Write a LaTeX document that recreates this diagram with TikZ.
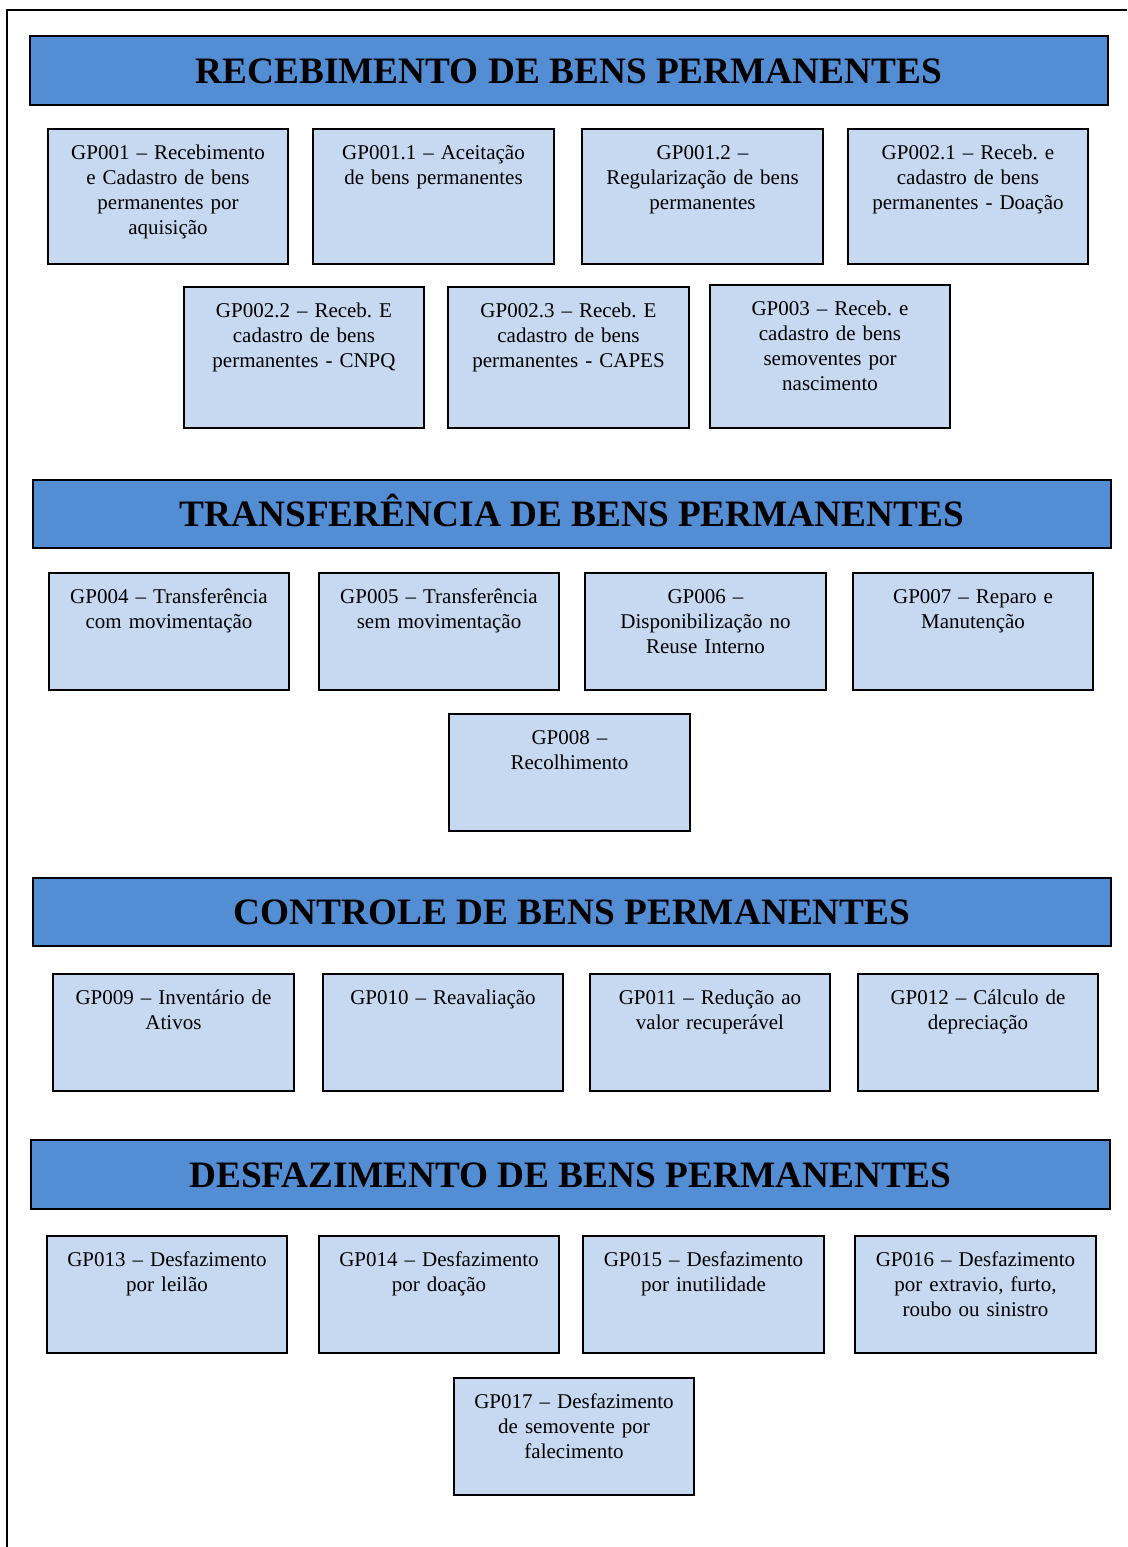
\documentclass[tikz,border=0pt]{standalone}
\usepackage{fontspec}
\setmainfont{Liberation Serif}
\frenchspacing
\definecolor{hdrblue}{HTML}{538ED5}
\definecolor{boxblue}{HTML}{C6D9F1}
\tikzset{
  hdr/.style={draw=black, line width=2pt, fill=hdrblue, inner sep=0pt,
    font=\fontsize{37.3}{40}\selectfont\bfseries, text height=25pt, text depth=0pt},
  gp/.style={draw=black, line width=2pt, fill=boxblue, inner sep=0pt},
  gptext/.style={anchor=base, inner sep=0pt, text width=250pt, align=center,
    font=\fontsize{21}{25}\selectfont},
}
% section heading: name, x1, y1, x2, y2, text
\newcommand\hdrbox[6]{%
  \node[hdr, minimum width={#4-#2}, minimum height={#5-#3}] (#1)
    at ({(#2+#4)/2},{(#3+#5)/2}) {#6};}
% process box: name, x1, y1, x2, y2, text (text hangs from the top edge)
\newcommand\gpbox[6]{%
  \node[gp, minimum width={#4-#2}, minimum height={#5-#3}] (#1)
    at ({(#2+#4)/2},{(#3+#5)/2}) {};
  \node[gptext] (#1t) at ([yshift=-31pt]#1.north) {#6};}
\begin{document}
\begin{tikzpicture}[x=1pt, y=-1pt]
\useasboundingbox (0,0) rectangle (1127,1547);
\draw[line width=2pt] (1127,10) -- (7,10) -- (7,1547);

% Recebimento
\hdrbox{h1}{30}{36}{1108}{105}{RECEBIMENTO DE BENS PERMANENTES}
\gpbox{gp001}{48}{129}{288}{264}{GP001 – Recebimento\\e Cadastro de bens\\permanentes por\\aquisição}
\gpbox{gp0011}{313}{129}{554}{264}{GP001.1 – Aceitação\\de bens permanentes}
\gpbox{gp0012}{582}{129}{823}{264}{GP001.2 –\\Regularização de bens\\permanentes}
\gpbox{gp0021}{848}{129}{1088}{264}{GP002.1 – Receb. e\\cadastro de bens\\permanentes - Doação}
\gpbox{gp0022}{184}{287}{424}{428}{GP002.2 – Receb. E\\cadastro de bens\\permanentes - CNPQ}
\gpbox{gp0023}{448}{287}{689}{428}{GP002.3 – Receb. E\\cadastro de bens\\permanentes - CAPES}
\gpbox{gp003}{710}{285}{950}{428}{GP003 – Receb. e\\cadastro de bens\\semoventes por\\nascimento}

% Transferencia
\hdrbox{h2}{33}{480}{1111}{548}{TRANSFERÊNCIA DE BENS PERMANENTES}
\gpbox{gp004}{49}{573}{289}{690}{GP004 – Transferência\\com movimentação}
\gpbox{gp005}{319}{573}{559}{690}{GP005 – Transferência\\sem movimentação}
\gpbox{gp006}{585}{573}{826}{690}{GP006 –\\Disponibilização no\\Reuse Interno}
\gpbox{gp007}{853}{573}{1093}{690}{GP007 – Reparo e\\Manutenção}
\gpbox{gp008}{449}{714}{690}{831}{GP008 –\\Recolhimento}

% Controle
\hdrbox{h3}{33}{878}{1111}{946}{CONTROLE DE BENS PERMANENTES}
\gpbox{gp009}{53}{974}{294}{1091}{GP009 – Inventário de\\Ativos}
\gpbox{gp010}{323}{974}{563}{1091}{GP010 – Reavaliação}
\gpbox{gp011}{590}{974}{830}{1091}{GP011 – Redução ao\\valor recuperável}
\gpbox{gp012}{858}{974}{1098}{1091}{GP012 – Cálculo de\\depreciação}

% Desfazimento
\hdrbox{h4}{31}{1140}{1110}{1209}{DESFAZIMENTO DE BENS PERMANENTES}
\gpbox{gp013}{47}{1236}{287}{1353}{GP013 – Desfazimento\\por leilão}
\gpbox{gp014}{319}{1236}{559}{1353}{GP014 – Desfazimento\\por doação}
\gpbox{gp015}{583}{1236}{824}{1353}{GP015 – Desfazimento\\por inutilidade}
\gpbox{gp016}{855}{1236}{1096}{1353}{GP016 – Desfazimento\\por extravio, furto,\\roubo ou sinistro}
\gpbox{gp017}{454}{1378}{694}{1495}{GP017 – Desfazimento\\de semovente por\\falecimento}
\end{tikzpicture}
\end{document}
